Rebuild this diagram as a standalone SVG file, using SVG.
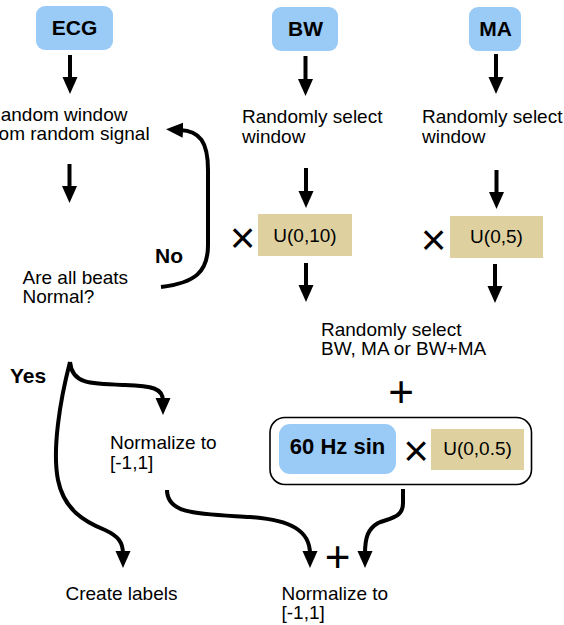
<svg xmlns="http://www.w3.org/2000/svg" width="564" height="625" viewBox="0 0 564 625">
<style>
text{font-family:"Liberation Sans",Arial,Helvetica,sans-serif;fill:#000}
.t{font-size:19px}
.b{font-size:21px;font-weight:bold}
.blue{fill:#99cbf6}
.tan{fill:#dfd19f}
.c{fill:none;stroke:#000;stroke-width:4}
.op{font-size:44px}
</style>
<defs>
<marker id="ah" markerUnits="userSpaceOnUse" markerWidth="18" markerHeight="16" refX="3" refY="7.5" orient="auto" viewBox="0 0 18 16">
<path d="M0,0 L17,7.5 L0,15 Z" fill="#000"/>
</marker>
</defs>
<rect width="564" height="625" fill="#fff"/>

<g id="ecg"><rect class="blue" x="36" y="6" width="77" height="44" rx="9"/><text class="b" x="74.5" y="34.5" text-anchor="middle">ECG</text></g>
<g id="bw"><rect class="blue" x="272" y="7" width="66" height="44" rx="9"/><text class="b" x="305.5" y="35.5" text-anchor="middle">BW</text></g>
<g id="ma"><rect class="blue" x="469" y="7" width="52" height="44" rx="9"/><text class="b" x="495.5" y="35.5" text-anchor="middle">MA</text></g>

<g id="ecg-window"><text class="t" x="-13" y="120.5">Random window</text><text class="t" x="-13" y="140">from random signal</text></g>
<g id="bw-window"><text class="t" x="242" y="123">Randomly select</text><text class="t" x="242" y="142.5">window</text></g>
<g id="ma-window"><text class="t" x="422" y="123">Randomly select</text><text class="t" x="422" y="142.5">window</text></g>

<g id="check"><text class="t" x="22.5" y="283.5">Are all beats</text><text class="t" x="22.5" y="303">Normal?</text></g>
<g id="no-label"><text class="b" x="155" y="262.5">No</text></g>
<g id="yes-label"><text class="b" x="10" y="382.5">Yes</text></g>

<g id="bw-mult"><text class="op" x="242.5" y="253" text-anchor="middle">×</text><rect class="tan" x="258" y="214" width="94" height="42"/><text class="t" x="305" y="241.5" text-anchor="middle">U(0,10)</text></g>
<g id="ma-mult"><text class="op" x="433.5" y="254.5" text-anchor="middle">×</text><rect class="tan" x="450" y="216" width="93" height="42"/><text class="t" x="496.5" y="243" text-anchor="middle">U(0,5)</text></g>

<g id="select"><text class="t" x="321" y="335.5">Randomly select</text><text class="t" x="321" y="355">BW, MA or BW+MA</text></g>
<g id="plus-top"><text class="op" x="401" y="406.5" text-anchor="middle">+</text></g>

<g id="sin-group"><rect x="270" y="417.5" width="261.5" height="67" rx="15" fill="#fff" stroke="#000" stroke-width="1.6"/>
<rect class="blue" x="279" y="424" width="117" height="50" rx="11"/><text x="337.5" y="454" text-anchor="middle" style="font-size:22px;font-weight:bold">60 Hz sin</text>
<text class="op" x="416" y="466" text-anchor="middle">×</text>
<rect class="tan" x="431" y="429" width="93" height="41"/><text class="t" x="477.5" y="454.5" text-anchor="middle">U(0,0.5)</text></g>

<g id="normalize-ecg"><text class="t" x="110" y="449">Normalize to</text><text class="t" x="110" y="468.5">[-1,1]</text></g>
<g id="create-labels"><text class="t" x="65.5" y="599.5">Create labels</text></g>
<g id="plus-bottom"><text class="op" x="337.5" y="571.5" text-anchor="middle">+</text></g>
<g id="normalize-final"><text class="t" x="281.5" y="599.5">Normalize to</text><text class="t" x="281.5" y="619">[-1,1]</text></g>

<g id="connectors">
<path class="c" d="M70,55 V80" marker-end="url(#ah)"/>
<path class="c" d="M69.5,164 V189" marker-end="url(#ah)"/>
<path class="c" d="M305.5,56 V82" marker-end="url(#ah)"/>
<path class="c" d="M306,168 V194" marker-end="url(#ah)"/>
<path class="c" d="M306,263 V288" marker-end="url(#ah)"/>
<path class="c" d="M496,54 V80" marker-end="url(#ah)"/>
<path class="c" d="M496.5,170 V195" marker-end="url(#ah)"/>
<path class="c" d="M495,264 V289" marker-end="url(#ah)"/>
<path class="c" d="M161,287 C195,283 208,272 208,245 L208,170 C208,142 200,131 180,130" marker-end="url(#ah)"/>
<path class="c" d="M70,362 C72,384 90,384 125,385 C152,386 163,388 163,401" marker-end="url(#ah)"/>
<path class="c" d="M70,362 C60,400 52,450 58,480 C64,510 85,522 105,530 C118,536 123,542 123,554" marker-end="url(#ah)"/>
<path class="c" d="M167,490 C167,515 200,514 250,517 C290,520 310,530 310,554" marker-end="url(#ah)"/>
<path class="c" d="M403,489 L403,503 C403,518 390,518 378,523 C368,529 365,537 365,554" marker-end="url(#ah)"/>
</g>
</svg>
